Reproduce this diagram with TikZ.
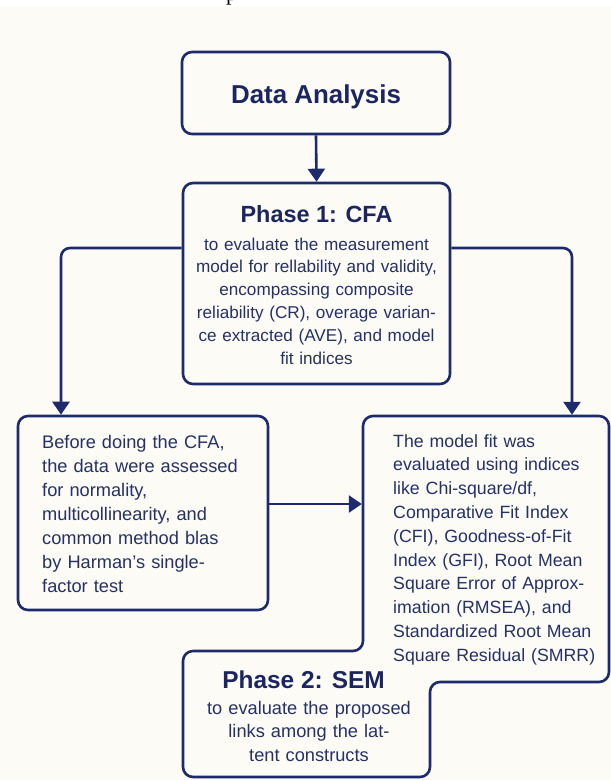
\documentclass[tikz,border=0pt]{standalone}
\usepackage{fontspec}
\setmainfont{Liberation Sans}
\newfontfamily\serifp{Liberation Serif}
\usetikzlibrary{arrows.meta}
\definecolor{navy}{HTML}{1D2B6C}
\definecolor{ink}{HTML}{1B2560}
\definecolor{bodyink}{HTML}{253166}
\definecolor{cream}{HTML}{FCFBF6}
\begin{document}
\begin{tikzpicture}[x=1bp,y=-1bp,
  box/.style={draw=navy, line width=2.6bp, rounded corners=10bp, inner sep=0},
  ghost/.style={inner sep=0, outer sep=0},
  outline/.style={draw=navy, line width=2.6bp, rounded corners=10bp},
  conn/.style={draw=navy, line width=2.6bp, rounded corners=9bp, -{Triangle[length=13bp,width=17bp]}},
  title/.style={text=ink, inner sep=0},
  body/.style={text=bodyink, inner sep=0},
]
\useasboundingbox (0,0) rectangle (611,780);
\fill[white] (0,0) rectangle (611,7);
\fill[cream] (0,7) rectangle (611,780);
\node[anchor=base west, inner sep=0, font=\serifp\fontsize{22}{22}\selectfont] (frag) at (226,0.5) {p};

% boxes
\node[box, minimum width=268bp, minimum height=82bp] (da) at (316,93) {};
\node[box, minimum width=267bp, minimum height=201bp] (p1) at (316.5,283.5) {};
\node[box, minimum width=250bp, minimum height=194bp] (lb) at (143,513) {};
\node[ghost, minimum width=246bp, minimum height=266bp] (rb) at (486,549) {};
\node[ghost, minimum width=247bp, minimum height=126bp] (p2) at (306.5,714) {};

% merged outline of the right box and phase 2
\draw[outline] (rb.north west) -- (rb.north east) -- (rb.south east)
  -- (p2.east |- rb.south) -- (p2.south east) -- (p2.south west)
  -- (p2.north west) -- (rb.west |- p2.north) -- cycle;

% texts
\node[title, anchor=base, font=\fontsize{26}{30}\selectfont\bfseries] (dat) at (316,103) {Data Analysis};
\node[title, anchor=base, font=\fontsize{23.5}{28}\selectfont\bfseries] (p1t) at (316.5,222) {Phase 1: CFA};
\node[body, anchor=base, text width=262bp, align=center, font=\fontsize{17.2}{23}\selectfont] (p1b) at (316.5,250)
  {to evaluate the measurement\\model for rellability and validity,\\encompassing composite\\reliability (CR), overage varian-\\ce extracted (AVE), and model\\fit indices};
\node[body, anchor=base west, text width=222bp, align=left, font=\fontsize{18.3}{24.2}\selectfont] (lbt) at (42,448)
  {Before doing the CFA,\\the data were assessed\\for normality,\\multicollinearity, and\\common method blas\\by Harman’s single-\\factor test};
\node[body, anchor=base west, text width=214bp, align=left, font=\fontsize{17.8}{23.9}\selectfont] (rbt) at (393,447)
  {The model fit was\\evaluated using indices\\like Chi-square/df,\\Comparative Fit Index\\(CFI), Goodness-of-Fit\\Index (GFI), Root Mean\\Square Error of Approx-\\imation (RMSEA), and\\Standardized Root Mean\\Square Residual (SMRR)};
\node[title, anchor=base, font=\fontsize{24.5}{28}\selectfont\bfseries] (p2t) at (303.5,688) {Phase 2: SEM};
\node[body, anchor=base, text width=230bp, align=center, font=\fontsize{18.3}{24}\selectfont] (p2b) at (309,714)
  {to evaluate the proposed\\links among the lat-\\tent constructs};

% connectors
\coordinate (lturn) at (61,248);
\coordinate (rturn) at (572,248);
\coordinate (midy) at (300,504);
\draw[conn] (da.south) -- (p1.north);
\draw[conn] (p1.west |- lturn) -| (lb.north -| lturn);
\draw[conn, shorten >=1.2bp] (p1.east |- rturn) -| (rb.north -| rturn);
\draw[conn, shorten >=1.2bp] (lb.east |- midy) -- (rb.west |- midy);
\end{tikzpicture}
\end{document}
